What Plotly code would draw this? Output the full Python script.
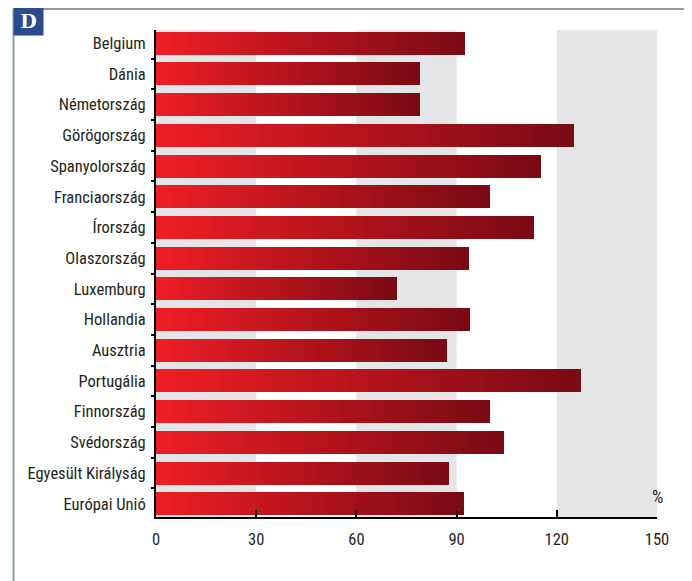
import plotly.graph_objects as go

# countries, top to bottom
countries = ["Belgium", "Dánia", "Németország", "Görögország", "Spanyolország",
             "Franciaország", "Írország", "Olaszország", "Luxemburg", "Hollandia",
             "Ausztria", "Portugália", "Finnország", "Svédország",
             "Egyesült Királyság", "Európai Unió"]

# values in %
values = [92.5, 79.0, 79.0, 125.1, 115.3, 100.0, 113.2, 93.7, 72.2, 94.0,
          87.1, 127.2, 100.0, 104.2, 87.7, 92.2]

x_ticks = [0, 30, 60, 90, 120, 150]
bands = [(0, 30), (60, 90), (120, 150)]

FONT = "Liberation Sans Narrow, Roboto Condensed, Arial Narrow, Roboto, sans-serif"

# gradient ends for each bar (left -> right)
c_start = (238, 29, 37)
c_end = (122, 10, 20)
n_seg = 40


def seg_color(k):
    t = k / (n_seg - 1)
    r, g, b = [round(a + (b_ - a) * t) for a, b_ in zip(c_start, c_end)]
    return f"rgb({r},{g},{b})"


fig = go.Figure()

# each bar is split into slices so it can fade from bright to dark red
for k in range(n_seg):
    fig.add_trace(go.Bar(
        y=countries,
        x=[v / n_seg for v in values],
        base=[v * k / n_seg for v in values],
        orientation="h",
        width=0.75,
        marker=dict(color=seg_color(k), line=dict(width=0)),
        hoverinfo="skip",
        showlegend=False,
    ))

# grey background bands
for x0, x1 in bands:
    fig.add_shape(type="rect", xref="x", yref="paper", x0=x0, x1=x1, y0=0, y1=1,
                  fillcolor="#e4e5e7", line_width=0, layer="below")

# outer frame
frame_col = "#8d9ca8"
fx0, fx1, fy1, fy0 = -0.2844, 1.0599, 1.0431, -0.2
fig.add_shape(type="line", xref="paper", yref="paper", x0=fx0, x1=fx1,
              y0=fy1, y1=fy1, line=dict(color=frame_col, width=2))
fig.add_shape(type="line", xref="paper", yref="paper", x0=fx0, x1=fx0,
              y0=fy1, y1=fy0, line=dict(color=frame_col, width=2))
fig.add_shape(type="line", xref="paper", yref="paper", x0=fx1, x1=fx1,
              y0=fy1, y1=fy0, line=dict(color=frame_col, width=2))

# "D" panel label
fig.add_annotation(text="<b>D</b>", xref="paper", yref="paper", x=-0.2854, y=1.05,
                   xanchor="left", yanchor="top", width=27, height=26,
                   bgcolor="#2c4a8c", borderpad=1, showarrow=False,
                   font=dict(family="DejaVu Serif, serif", size=19, color="white"))

# unit label
fig.add_annotation(text="%", xref="x", yref="paper", x=150, y=0.0,
                   yanchor="bottom", yshift=8, showarrow=False,
                   font=dict(family=FONT, size=18, color="#231f20"))

# page body has an 8px margin, so the figure is 8px smaller and margins shifted
fig.update_layout(
    width=684, height=573,
    margin=dict(l=148, r=35, t=22, b=64),
    barmode="overlay",
    bargap=0,
    plot_bgcolor="white",
    paper_bgcolor="white",
    font=dict(family=FONT, size=16, color="#231f20"),
    showlegend=False,
)

fig.update_xaxes(range=[0, 150], tickvals=x_ticks, showgrid=False, zeroline=False,
                 showline=True, linecolor="black", linewidth=2,
                 ticks="inside", ticklen=7, tickwidth=2, tickcolor="black",
                 ticklabelstandoff=6, tickfont=dict(size=16.5))
fig.update_yaxes(categoryorder="array", categoryarray=countries,
                 range=[15.43, -0.43], showgrid=False, zeroline=False,
                 showline=True, linecolor="black", linewidth=2,
                 ticks="outside", ticklen=3, tickwidth=2, tickcolor="black",
                 tickson="boundaries", ticklabelstandoff=5,
                 tickfont=dict(size=16.5))

fig.write_html("out.html")
